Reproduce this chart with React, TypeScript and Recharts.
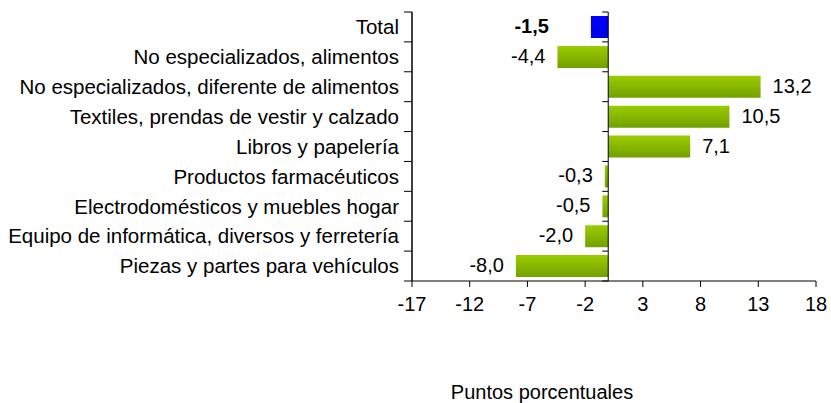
import React from "react";
import {
  BarChart,
  Bar,
  XAxis,
  YAxis,
  Cell,
  LabelList,
  ReferenceLine,
} from "recharts";

const categories = [
  "Total ",
  "No especializados, alimentos",
  "No especializados, diferente de alimentos",
  "Textiles, prendas de vestir y calzado",
  "Libros y papelería",
  "Productos farmacéuticos",
  "Electrodomésticos y muebles hogar",
  "Equipo de informática, diversos y ferretería",
  "Piezas y partes para vehículos",
];

const values = [-1.5, -4.4, 13.2, 10.5, 7.1, -0.3, -0.5, -2.0, -8.0];

const xTicks = [-17, -12, -7, -2, 3, 8, 13, 18];

const axisTitle = "Puntos porcentuales";

const data = categories.map((name, i) => ({ name, value: values[i] }));

const FONT = "'Liberation Sans', Arial, sans-serif";
const FS = 20;

const fmt = (v: number) => v.toFixed(1).replace(".", ",");

// vertical line with small ticks on the category boundaries (Excel style)
const boundaryLine = (len: number) => (props: any) => {
  const { x1, y1, x2, y2 } = props;
  const n = categories.length;
  const step = (y2 - y1) / n;
  return (
    <g>
      <line x1={x1} y1={y1} x2={x2} y2={y2} stroke="#000" strokeWidth={1} />
      {Array.from({ length: n + 1 }, (_, i) => (
        <line
          key={i}
          x1={x1 - len}
          x2={x1}
          y1={y1 + i * step}
          y2={y1 + i * step}
          stroke="#000"
          strokeWidth={1}
        />
      ))}
    </g>
  );
};

const renderValueLabel = (props: any) => {
  const { x, y, width, height, value, index } = props;
  const left = Math.min(x, x + width);
  const right = Math.max(x, x + width);
  const neg = value < 0;
  const isTotal = index === 0;
  const gap = isTotal ? 42 : 12;
  return (
    <text
      x={neg ? left - gap : right + gap}
      y={y + height / 2 + 6}
      textAnchor={neg ? "end" : "start"}
      fill="#000"
      fontSize={FS}
      fontFamily={FONT}
      fontWeight={isTotal ? "bold" : "normal"}
    >
      {fmt(value)}
    </text>
  );
};

export default function App() {
  return (
    <div style={{ position: "absolute", left: 0, top: 0, background: "#fff" }}>
      <BarChart
        width={831}
        height={403}
        data={data}
        layout="vertical"
        margin={{ top: 12, right: 15, bottom: 0, left: 0 }}
      >
        <defs>
          <linearGradient id="greenFill" x1="0" y1="0" x2="0" y2="1">
            <stop offset="0%" stopColor="#9ccc00" />
            <stop offset="100%" stopColor="#72a000" />
          </linearGradient>
          <linearGradient id="blueFill" x1="0" y1="0" x2="0" y2="1">
            <stop offset="0%" stopColor="#0000ff" />
            <stop offset="100%" stopColor="#0000e6" />
          </linearGradient>
        </defs>
        <XAxis
          type="number"
          domain={[-17, 18]}
          ticks={xTicks}
          interval={0}
          allowDataOverflow
          stroke="#000"
          tickSize={6}
          tickMargin={10}
          height={122}
          tick={{ fill: "#000", fontSize: FS, fontFamily: FONT }}
          label={{
            value: axisTitle,
            position: "insideBottom",
            offset: 4,
            dx: -72,
            fill: "#000",
            fontSize: FS,
            fontFamily: FONT,
          }}
        />
        <YAxis
          type="category"
          dataKey="name"
          width={412}
          interval={0}
          stroke="#000"
          tickLine={false}
          tickSize={8}
          tickMargin={5}
          tick={{ fill: "#000", fontSize: 20.5, fontFamily: FONT }}
        />
        <Bar dataKey="value" barSize={22} isAnimationActive={false}>
          {data.map((d, i) => (
            <Cell key={d.name} fill={i === 0 ? "url(#blueFill)" : "url(#greenFill)"} />
          ))}
          <LabelList dataKey="value" content={renderValueLabel} />
        </Bar>
        <ReferenceLine x={-17} shape={boundaryLine(8)} />
        <ReferenceLine x={0} shape={boundaryLine(6)} />
      </BarChart>
    </div>
  );
}
